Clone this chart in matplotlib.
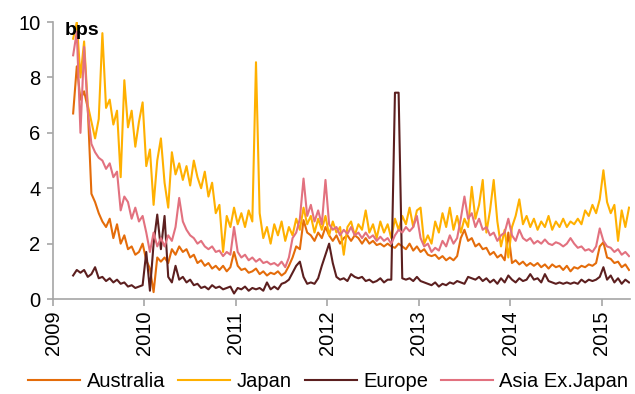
import matplotlib.pyplot as plt
import numpy as np

plt.rcParams['font.family'] = ['Liberation Sans', 'DejaVu Sans']

# sampling grid (fractional years), ~every two weeks from Mar 2009
t_start = 2009.22
t_step = 0.04

australia = [
    6.7, 8.4, 7.2, 7.5, 6.9, 3.8, 3.5, 3.1, 2.8, 2.6,
    2.9, 2.2, 2.7, 2.0, 2.3, 1.8, 1.9, 1.6, 1.7, 2.0,
    1.4, 1.1, 0.25, 1.5, 1.35, 1.5, 1.3, 1.8, 1.6, 1.9,
    1.7, 1.8, 1.5, 1.6, 1.3, 1.4, 1.2, 1.3, 1.1, 1.2,
    1.05, 1.2, 1.0, 1.15, 1.7, 1.2, 1.05, 1.1, 0.95, 1.0,
    1.1, 0.9, 1.0, 0.85, 0.95, 0.9, 1.0, 0.85, 0.95, 1.2,
    1.5, 1.9, 1.8, 2.85, 2.4, 2.3, 2.1, 2.4, 2.2, 2.6,
    2.3, 2.1, 2.3, 2.0, 2.2, 2.3, 2.1, 2.3, 2.2, 2.0,
    2.2, 2.0, 2.1, 1.95, 2.0, 1.9, 2.0, 1.9, 1.85, 2.0,
    1.9, 1.8, 2.0, 1.75, 1.9, 1.7, 1.8, 1.6, 1.55, 1.6,
    1.45, 1.55, 1.4, 1.5, 1.4, 1.55, 2.2, 2.5, 2.1, 2.2,
    1.9, 2.0, 1.8, 1.85, 1.6, 1.7, 1.5, 1.6, 1.4, 2.4,
    1.3, 1.4, 1.25, 1.35, 1.2, 1.3, 1.2, 1.3, 1.15, 1.25,
    1.1, 1.25, 1.15, 1.2, 1.05, 1.2, 1.0, 1.15, 1.1, 1.2,
    1.15, 1.25, 1.2, 1.3, 1.9, 2.05, 1.5, 1.45, 1.3, 1.35,
    1.15, 1.25, 1.05,
]

japan = [
    9.4, 10.0, 8.0, 9.3, 7.0, 6.4, 5.8, 6.5, 9.6, 6.9,
    7.2, 6.3, 6.8, 4.4, 7.9, 6.2, 6.8, 5.5, 6.4, 7.1,
    4.8, 5.4, 3.4, 5.0, 5.8, 4.2, 3.3, 5.3, 4.5, 4.9,
    4.3, 4.8, 4.1, 5.0, 4.4, 4.0, 4.6, 3.7, 4.2, 3.1,
    3.4, 1.7, 3.0, 2.6, 3.3, 2.7, 3.1, 2.6, 3.2, 2.8,
    8.55, 3.1, 2.2, 2.6, 2.0, 2.7, 2.3, 2.8, 2.1, 2.6,
    2.3, 2.9, 2.5, 3.3, 2.7, 3.0, 2.4, 2.9, 2.5, 3.0,
    2.3, 2.8, 2.4, 2.6, 1.6, 2.6, 2.8, 2.3, 2.7, 2.5,
    3.2, 2.4, 2.7, 2.2, 2.8, 2.4, 2.7, 2.2, 2.9, 2.5,
    3.0, 2.7, 3.3, 2.6, 3.2, 3.3, 2.0, 2.3, 2.0, 2.8,
    2.4, 3.1, 2.6, 3.3, 2.5, 3.0, 2.4, 2.9, 2.6, 4.05,
    2.9, 3.4, 4.3, 2.4, 3.2, 4.3, 2.8, 1.9, 2.5, 1.5,
    2.6, 3.0, 3.6, 2.7, 3.0, 2.6, 2.9, 2.5, 2.8, 2.6,
    3.0, 2.5, 2.8, 2.6, 2.9, 2.6, 2.8, 2.7, 2.9, 2.7,
    3.2, 3.0, 3.4, 3.1, 3.6, 4.65, 3.5, 3.1, 3.4, 2.1,
    3.2, 2.6, 3.3,
]

europe = [
    0.85, 1.05, 0.95, 1.05, 0.8, 0.9, 1.15, 0.75, 0.8, 0.65,
    0.75, 0.6, 0.7, 0.55, 0.6, 0.45, 0.5, 0.4, 0.45, 0.5,
    1.7, 0.3, 2.0, 3.05, 1.8, 3.0, 0.8, 0.6, 1.2, 0.7,
    0.8, 0.6, 0.7, 0.5, 0.55, 0.4, 0.45, 0.35, 0.5, 0.4,
    0.45, 0.35, 0.4, 0.45, 0.2, 0.4, 0.35, 0.45, 0.3, 0.4,
    0.35, 0.4, 0.3, 0.6, 0.35, 0.45, 0.35, 0.55, 0.6, 0.7,
    0.95, 1.2, 1.35, 0.8, 0.55, 0.6, 0.55, 0.75, 1.2, 1.6,
    2.0, 1.3, 0.8, 0.7, 0.75, 0.65, 0.9, 0.8, 0.75, 0.8,
    0.65, 0.7, 0.6, 0.65, 0.75, 0.6, 0.7, 0.7, 7.45, 7.45,
    0.75, 0.7, 0.75, 0.65, 0.8, 0.65, 0.6, 0.55, 0.5, 0.6,
    0.45, 0.55, 0.5, 0.6, 0.55, 0.65, 0.6, 0.55, 0.8, 0.75,
    0.7, 0.8, 0.65, 0.75, 0.6, 0.7, 0.55, 0.75, 0.6, 0.85,
    0.7, 0.6, 0.75, 0.65, 0.7, 0.9, 0.7, 0.75, 0.6, 0.9,
    0.65, 0.6, 0.55, 0.6, 0.55, 0.6, 0.55, 0.6, 0.55, 0.7,
    0.6, 0.7, 0.65, 0.7, 0.8, 1.15, 0.7, 0.85, 0.6, 0.75,
    0.55, 0.7, 0.6,
]

asia_ex_japan = [
    8.8, 9.65, 6.0, 9.1, 6.8, 5.6, 5.3, 5.1, 5.0, 4.7,
    4.9, 4.4, 4.6, 3.2, 3.7, 3.5, 2.9, 3.3, 2.8, 3.0,
    2.4, 1.7, 2.4, 1.9, 2.2, 1.9, 2.3, 2.1, 2.6, 3.65,
    2.8, 2.5, 2.3, 2.2, 2.0, 2.1, 1.9, 1.8, 1.9, 1.7,
    1.75, 1.55, 1.7, 1.6, 2.6, 1.7, 1.5, 1.6, 1.4, 1.5,
    1.35, 1.45, 1.3, 1.35, 1.25, 1.3, 1.2, 1.35, 1.15, 1.5,
    2.2, 2.4, 2.9, 4.35, 3.0, 3.4, 2.8, 3.2, 2.7, 4.3,
    2.7, 2.5, 2.6, 2.3, 2.5, 2.35, 2.6, 2.3, 2.4, 2.2,
    2.4, 2.2, 2.3, 2.1, 2.25, 2.1, 2.2, 2.0, 2.3, 2.5,
    2.4, 2.6, 2.45, 2.6, 3.0, 2.2, 1.9, 2.0, 1.7, 1.85,
    1.75, 2.1, 1.9, 2.3, 2.0, 2.2, 2.9, 3.7, 2.9, 3.1,
    2.6, 2.9, 2.5, 2.6, 2.3, 2.4, 2.1, 2.3, 2.4, 2.9,
    2.3, 2.1, 2.5, 2.2, 2.1, 2.2, 2.0, 2.1, 2.0, 2.15,
    2.0, 1.95, 2.05, 2.0, 1.9, 2.0, 2.2, 2.0, 1.85, 1.9,
    1.75, 1.8, 1.7, 1.9, 2.55, 2.1, 1.9, 1.85, 1.7, 1.8,
    1.6, 1.7, 1.55,
]

series = [
    ('Australia', australia, '#E46C0A'),
    ('Japan', japan, '#FFB000'),
    ('Europe', europe, '#5C1F1F'),
    ('Asia Ex.Japan', asia_ex_japan, '#E2717F'),
]
years = [2009, 2010, 2011, 2012, 2013, 2014, 2015]

fig = plt.figure(figsize=(6.35, 3.94), dpi=100)
ax = fig.add_axes([0.0835, 0.241, 0.9085, 0.703])

for name, vals, col in series:
    t = t_start + t_step * np.arange(len(vals))
    ax.plot(t, vals, color=col, lw=1.5, label=name)

ax.set_xlim(2009, 2015.31)
ax.set_ylim(0, 10)
ax.set_yticks(range(0, 11, 2))
ax.set_xticks(years)
ax.set_xticklabels([str(y) for y in years], rotation=90)

for s in ['top', 'right']:
    ax.spines[s].set_visible(False)
for s in ['left', 'bottom']:
    ax.spines[s].set_color('#A6A6A6')
    ax.spines[s].set_linewidth(1.2)
ax.tick_params(axis='both', colors='#A6A6A6', labelcolor='black',
               labelsize=14.5, length=5, width=1.2)
ax.tick_params(axis='y', length=4, pad=5)

ax.text(0.02, 1.0, 'bps', transform=ax.transAxes, fontsize=14,
        fontweight='bold', va='top', ha='left')

fig.legend(loc='center', bbox_to_anchor=(0.517, 0.032), ncol=4, frameon=False,
           fontsize=14.5, handlelength=2.6, handletextpad=0.3,
           columnspacing=0.65, borderaxespad=0)

fig.savefig('out.png', dpi=100)
